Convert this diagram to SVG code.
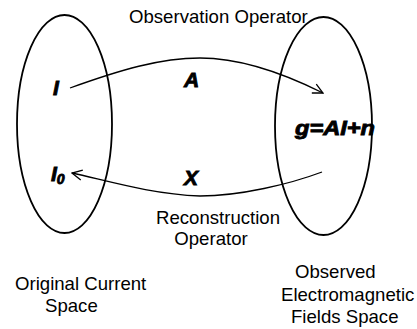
<svg xmlns="http://www.w3.org/2000/svg" width="417" height="329" viewBox="0 0 417 329">
<style>
.lbl{font-family:"Liberation Sans",Arial,sans-serif;font-size:18.6px;fill:#000}
.math{font-family:"Liberation Sans",Arial,sans-serif;font-size:21px;font-weight:bold;font-style:italic;fill:#000;stroke:#000;stroke-width:0.9}
.space{fill:none;stroke:#000;stroke-width:1.8}
.conn{fill:none;stroke:#000;stroke-width:1.3}
</style>
<defs>
<marker id="open" viewBox="0 0 12 12" refX="11" refY="6" markerWidth="12" markerHeight="12" markerUnits="userSpaceOnUse" orient="auto">
<path d="M1,1 L11,6 L1,11" fill="none" stroke="#000" stroke-width="1.3"/>
</marker>
</defs>
<rect width="417" height="329" fill="#fff"/>
<g id="original-space">
<ellipse class="space" cx="64.5" cy="124" rx="47.5" ry="109"/>
<text class="math" x="53" y="95">I</text>
<text class="math" x="51" y="181">I<tspan font-size="14" dy="3">0</tspan></text>
<text class="lbl" x="15" y="290">Original Current</text>
<text class="lbl" x="45" y="312">Space</text>
</g>
<g id="observed-space">
<ellipse class="space" cx="323.5" cy="126" rx="48.5" ry="109"/>
<text class="math" x="295" y="135" textLength="80" lengthAdjust="spacingAndGlyphs">g=AI+n</text>
<text class="lbl" x="295" y="278">Observed</text>
<text class="lbl" x="281" y="301">Electromagnetic</text>
<text class="lbl" x="291" y="323">Fields Space</text>
</g>
<g id="connectors">
<path class="conn" d="M70,88 C120,70 160,58 200,58 C240,58 285,74 323,93" marker-end="url(#open)"/>
<path class="conn" d="M322,172 C290,184 240,196 200,196 C150,194 105,180 72,173" marker-end="url(#open)"/>
<text class="lbl" x="129" y="23">Observation Operator</text>
<text class="math" x="184" y="87">A</text>
<text class="math" x="184" y="185">X</text>
<text class="lbl" x="156" y="224">Reconstruction</text>
<text class="lbl" x="211" y="245" text-anchor="middle">Operator</text>
</g>
</svg>
